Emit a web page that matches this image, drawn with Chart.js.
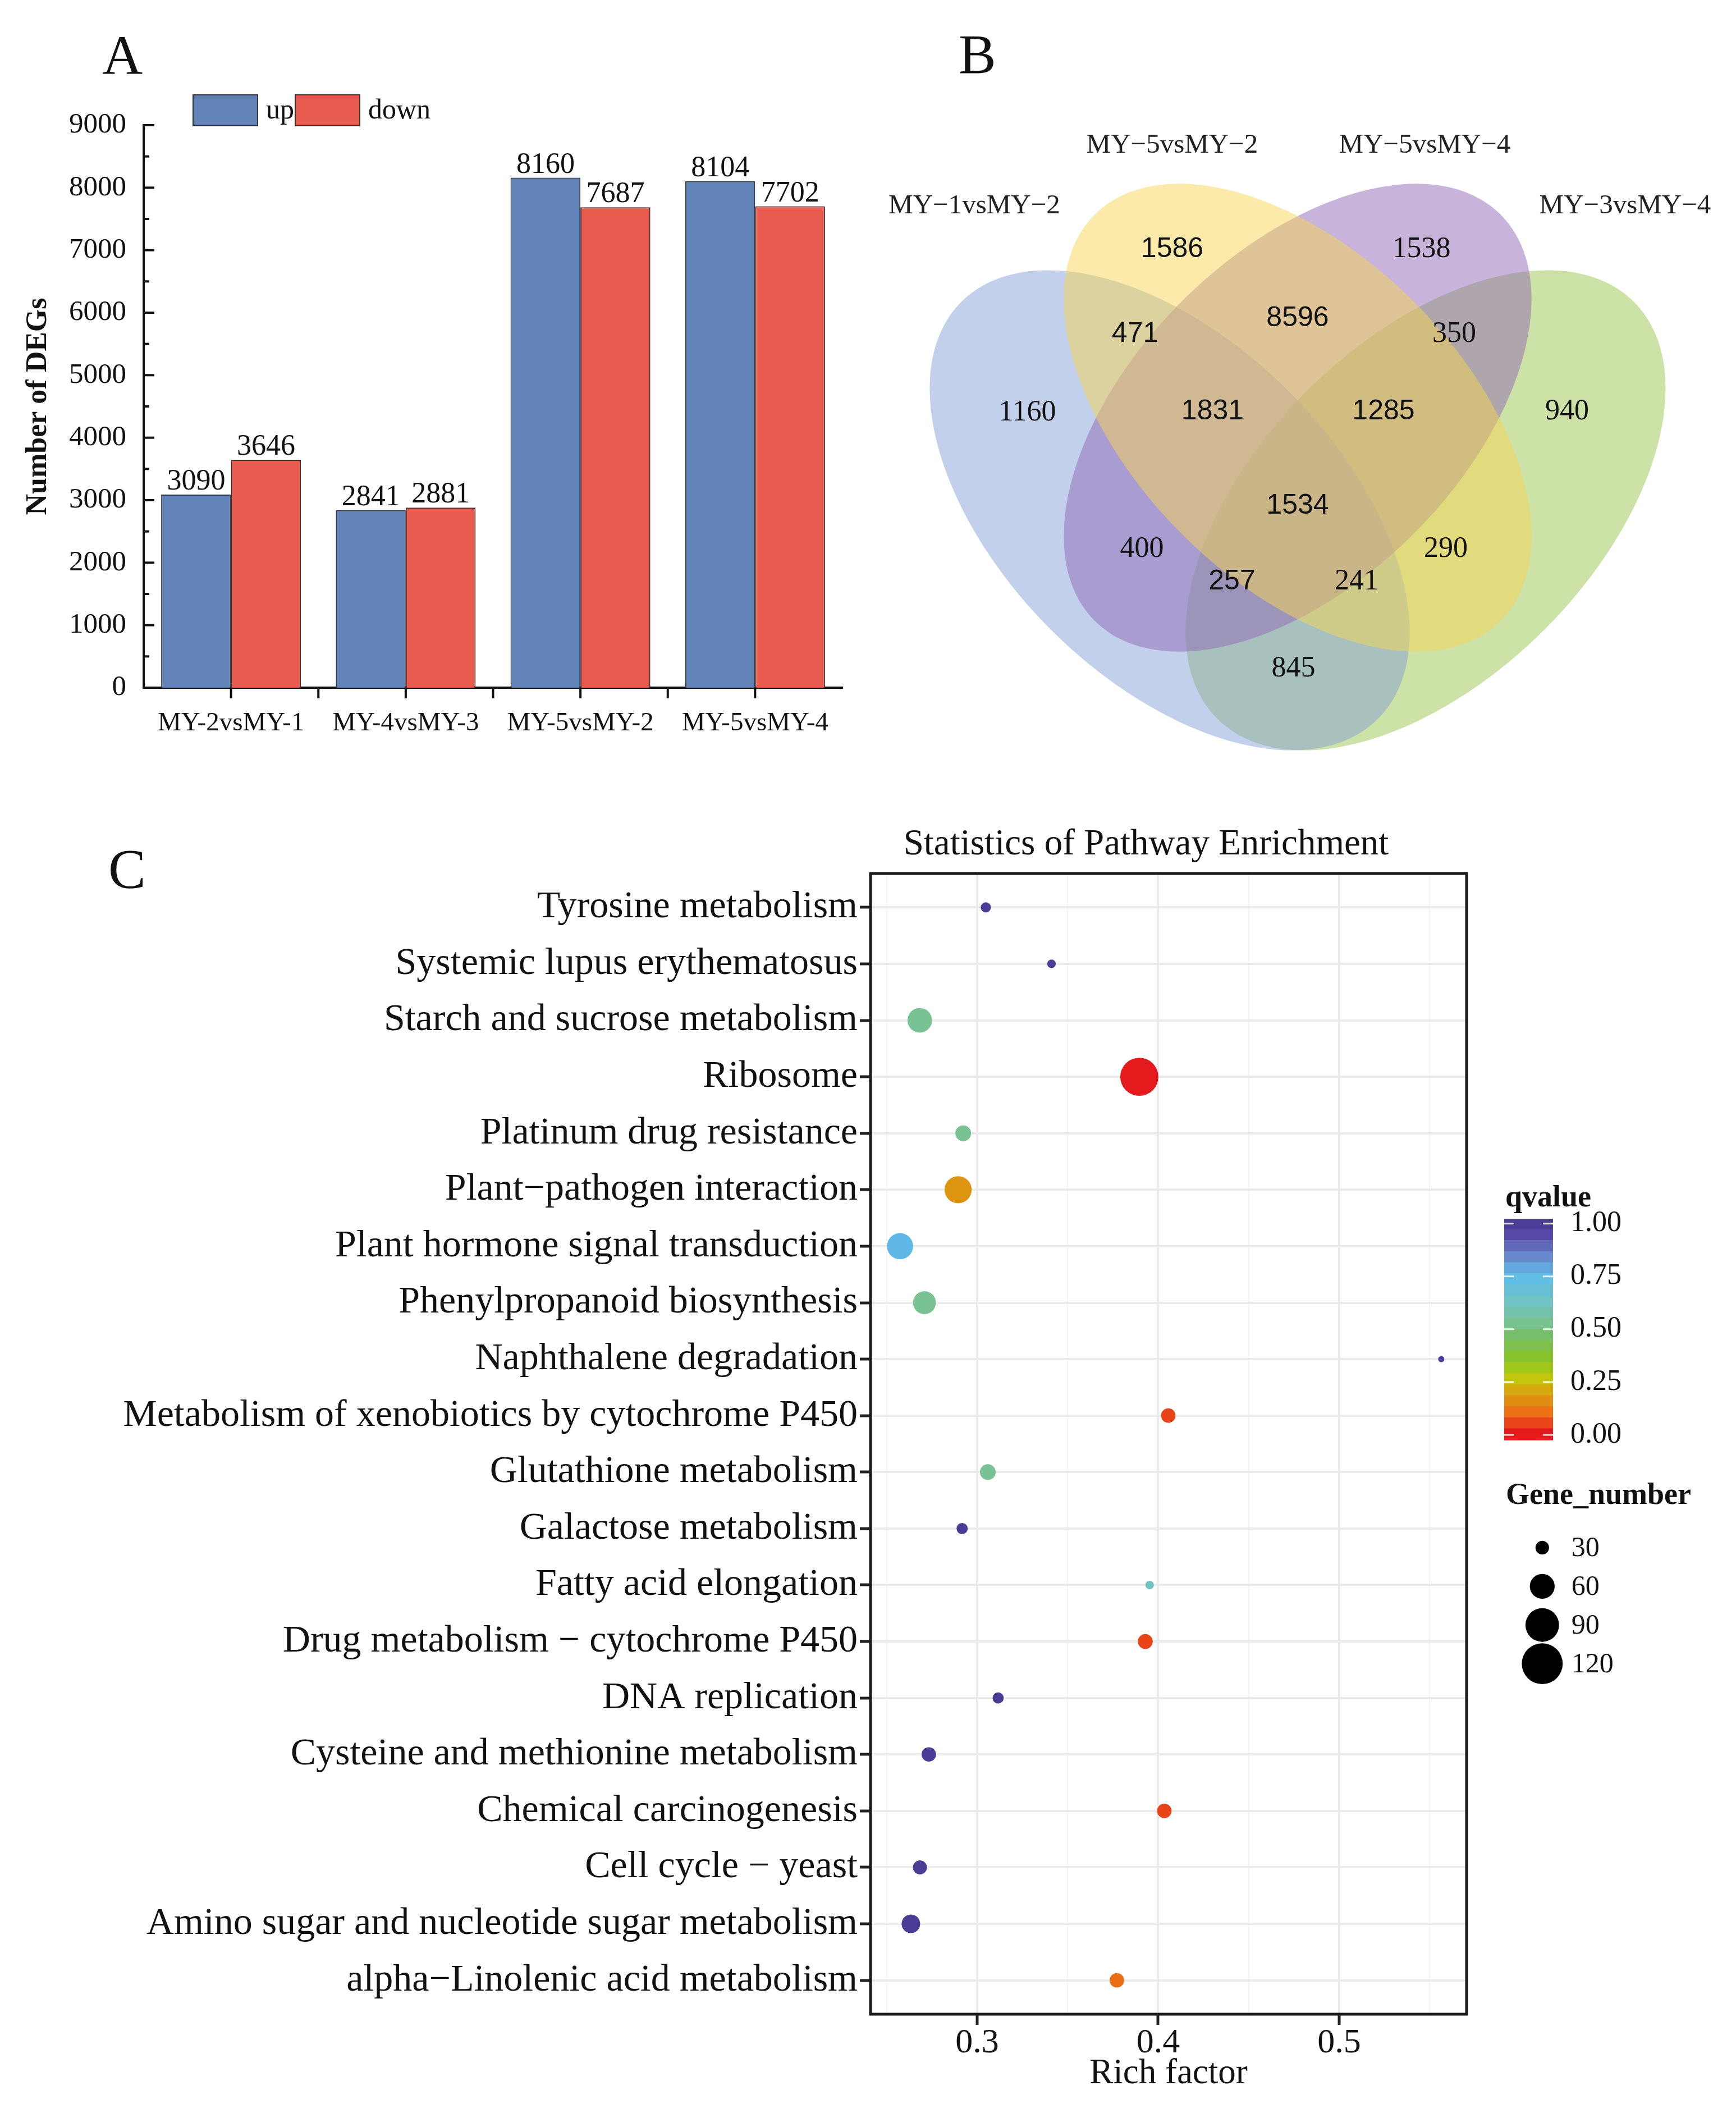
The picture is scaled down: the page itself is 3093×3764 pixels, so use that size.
<!DOCTYPE html>
<html>
<head>
<meta charset="utf-8">
<script src="https://cdn.jsdelivr.net/npm/chart.js@4.4.1/dist/chart.umd.min.js"></script>
<style>
  html, body { margin: 0; padding: 0; background: #fff; }
  body { width: 3093px; height: 3764px; position: relative; overflow: hidden; }
  canvas { position: absolute; }
</style>
</head>
<body>
<canvas id="bar" width="1550" height="1400" style="left:0;top:0;width:1550px;height:1400px"></canvas>
<canvas id="venn" width="1543" height="1400" style="left:1550px;top:0;width:1543px;height:1400px"></canvas>
<canvas id="dot" width="3093" height="2314" style="left:0;top:1450px;width:3093px;height:2314px"></canvas>
<canvas id="qbar" width="453" height="520" style="left:2640px;top:2100px;width:453px;height:520px"></canvas>
<canvas id="sizeKey" width="473" height="500" style="left:2620px;top:2600px;width:473px;height:500px"></canvas>
<script>
const SERIF = "'Liberation Serif', 'Times New Roman', serif";
const SANS = "'Liberation Sans', Arial, sans-serif";

// ---- panel A : DEG counts
const comparisons = ["MY-2vsMY-1", "MY-4vsMY-3", "MY-5vsMY-2", "MY-5vsMY-4"];
const upCounts = [3090, 2841, 8160, 8104];
const downCounts = [3646, 2881, 7687, 7702];
const countTicks = [0, 1000, 2000, 3000, 4000, 5000, 6000, 7000, 8000, 9000];

// ---- panel B : Venn
const vennSets = ["MY\u22121vsMY\u22122", "MY\u22125vsMY\u22122", "MY\u22125vsMY\u22124", "MY\u22123vsMY\u22124"];
const regionCounts = [1160, 1586, 1538, 940, 471, 8596, 350, 1831, 1285, 1534, 400, 290, 257, 241, 845];

// ---- panel C : KEGG enrichment
const pathways = [
  "Tyrosine metabolism",
  "Systemic lupus erythematosus",
  "Starch and sucrose metabolism",
  "Ribosome",
  "Platinum drug resistance",
  "Plant\u2212pathogen interaction",
  "Plant hormone signal transduction",
  "Phenylpropanoid biosynthesis",
  "Naphthalene degradation",
  "Metabolism of xenobiotics by cytochrome P450",
  "Glutathione metabolism",
  "Galactose metabolism",
  "Fatty acid elongation",
  "Drug metabolism \u2212 cytochrome P450",
  "DNA replication",
  "Cysteine and methionine metabolism",
  "Chemical carcinogenesis",
  "Cell cycle \u2212 yeast",
  "Amino sugar and nucleotide sugar metabolism",
  "alpha\u2212Linolenic acid metabolism",
];
const richFactor = [0.3048, 0.3411, 0.2683, 0.3896, 0.2923, 0.2895, 0.2574, 0.2709, 0.5564, 0.4056,
                    0.3059, 0.2917, 0.3953, 0.3929, 0.3116, 0.2733, 0.4034, 0.2684, 0.2634, 0.3772];
const geneNumber = [23, 20, 59, 108, 35, 67, 64, 54, 16, 32, 35, 25, 20, 33, 25, 32, 32, 31, 42, 32];
const qvalue = [1.0, 1.0, 0.53, 0.0, 0.53, 0.17, 0.76, 0.53, 1.0, 0.05,
                0.53, 1.0, 0.62, 0.05, 1.0, 1.0, 0.05, 1.0, 1.0, 0.1];
const richTicks = [0.3, 0.4, 0.5];
const qTicks = [0, 0.25, 0.5, 0.75, 1];
const sizeBreaks = [30, 60, 90, 120];

// ---- layout only (Venn text anchors, unit coords of the 4-ellipse layout)
const regionPos = [[0.179, 0.586], [0.351, 0.780], [0.647, 0.780], [0.820, 0.587], [0.307, 0.679],
                   [0.500, 0.698], [0.686, 0.679], [0.399, 0.587], [0.602, 0.587], [0.500, 0.475],
                   [0.315, 0.424], [0.676, 0.424], [0.422, 0.385], [0.570, 0.385], [0.495, 0.282]];
const regionSans = [false, true, false, false, true, true, false, true, true, true, false, false, true, false, false];
const setLabelPos = [[0.116, 0.831], [0.351, 0.903], [0.651, 0.903], [0.889, 0.831]];
// drawn in this order: green, blue, purple, yellow
const ellipses = [
  { cx: 0.652, cy: 0.47, a: 0.35, b: 0.2, rot: 45, fill: "rgba(153,197,77,0.5)" },
  { cx: 0.348, cy: 0.47, a: 0.35, b: 0.2, rot: 135, fill: "rgba(133,161,215,0.5)" },
  { cx: 0.50, cy: 0.58, a: 0.341, b: 0.195, rot: 45, fill: "rgba(145,105,181,0.5)" },
  { cx: 0.50, cy: 0.58, a: 0.341, b: 0.195, rot: 135, fill: "rgba(247,213,85,0.5)" },
];

const qStops = [[0, "#E41A1C"], [0.1, "#EC6E14"], [0.2, "#D7A50F"], [0.27, "#BFCB0E"], [0.35, "#8AC323"],
                [0.45, "#78BE5F"], [0.55, "#78C3A0"], [0.65, "#6EC3CD"], [0.75, "#5FBEEB"],
                [0.85, "#6982C8"], [0.95, "#5546A5"], [1, "#4B3C96"]];

Chart.defaults.font.family = SERIF;
Chart.defaults.color = "#111";
Chart.defaults.animation = false;
Chart.defaults.plugins.legend.display = false;
Chart.defaults.plugins.tooltip.enabled = false;

function hexRgb(h) {
  return [1, 3, 5].map((i) => parseInt(h.slice(i, i + 2), 16));
}

function qColor(q) {
  q = Math.max(0, Math.min(1, q));
  for (let i = 1; i < qStops.length; i++) {
    if (q <= qStops[i][0]) {
      const [t0, c0] = qStops[i - 1];
      const [t1, c1] = qStops[i];
      const f = (q - t0) / (t1 - t0);
      const a = hexRgb(c0), b = hexRgb(c1);
      const c = a.map((v, k) => Math.round(v + (b[k] - v) * f));
      return `rgb(${c[0]},${c[1]},${c[2]})`;
    }
  }
  return qStops[qStops.length - 1][1];
}

function sizeFn(n) {
  return 4.45 * Math.sqrt(n) - 12.3;
}

function line(ctx, x1, y1, x2, y2) {
  ctx.beginPath();
  ctx.moveTo(x1, y1);
  ctx.lineTo(x2, y2);
  ctx.stroke();
}

// ================= A =================
const barExtras = {
  id: "barExtras",
  afterDraw(chart) {
    const { ctx, chartArea: area } = chart;
    const xs = chart.scales.x, ys = chart.scales.y;
    ctx.save();
    ctx.strokeStyle = "#111";
    ctx.lineWidth = 4;
    countTicks.forEach((v) => {
      const py = ys.getPixelForValue(v);
      line(ctx, area.left, py, area.left + 19, py);
      if (v < 9000) {
        const pm = ys.getPixelForValue(v + 500);
        line(ctx, area.left, pm, area.left + 10, pm);
      }
    });
    comparisons.forEach((_, i) => {
      const px = xs.getPixelForValue(i);
      line(ctx, px, area.bottom, px, area.bottom + 19);
      if (i < comparisons.length - 1) {
        const pb = (px + xs.getPixelForValue(i + 1)) / 2;
        line(ctx, pb, area.bottom, pb, area.bottom + 19);
      }
    });
    // value labels
    ctx.fillStyle = "#111";
    ctx.font = `52px ${SERIF}`;
    ctx.textAlign = "center";
    ctx.textBaseline = "alphabetic";
    chart.data.datasets.forEach((ds, d) => {
      chart.getDatasetMeta(d).data.forEach((el, i) => {
        ctx.fillText(String(ds.data[i]), el.x, el.y - 9);
      });
    });
    // legend
    const boxes = [[344, "up", 474], [526, "down", 656]];
    ctx.textAlign = "left";
    ctx.font = `50px ${SERIF}`;
    boxes.forEach(([bx, label, tx], d) => {
      ctx.fillStyle = chart.data.datasets[d].backgroundColor;
      ctx.fillRect(bx, 169, 115, 55);
      ctx.lineWidth = 2;
      ctx.strokeStyle = "#333";
      ctx.strokeRect(bx, 169, 115, 55);
      ctx.fillStyle = "#111";
      ctx.fillText(label, tx, 211);
    });
    ctx.font = `100px ${SERIF}`;
    ctx.fillText("A", 182, 132);
    ctx.restore();
  },
};

new Chart(document.getElementById("bar"), {
  type: "bar",
  data: {
    labels: comparisons,
    datasets: [
      { label: "up", data: upCounts, backgroundColor: "#6283B7", borderColor: "#2f3a4a", borderWidth: 2 },
      { label: "down", data: downCounts, backgroundColor: "#EA5B4F", borderColor: "#4a2a28", borderWidth: 2 },
    ],
  },
  options: {
    responsive: false,
    devicePixelRatio: 1,
    layout: { padding: { top: 223, right: 49, left: 0, bottom: 0 } },
    datasets: { bar: { categoryPercentage: 0.8, barPercentage: 1 } },
    scales: {
      x: {
        afterFit: (ax) => { ax.height = 175; },
        grid: { display: false },
        border: { display: true, color: "#111", width: 4 },
        ticks: { font: { size: 47, lineHeight: 1 }, color: "#111", padding: 32, maxRotation: 0 },
      },
      y: {
        min: 0,
        max: 9000,
        afterBuildTicks: (ax) => { ax.ticks = countTicks.map((v) => ({ value: v })); },
        afterFit: (ax) => { ax.width = 256; },
        grid: { display: false },
        border: { display: true, color: "#111", width: 4 },
        ticks: { font: { size: 51 }, color: "#111", padding: 23, callback: (v) => String(v) },
        title: {
          display: true,
          text: "Number of DEGs",
          font: { size: 52, weight: "bold" },
          color: "#111",
          padding: { top: 37, bottom: 0 },
        },
      },
    },
  },
  plugins: [barExtras],
});

// ================= B =================
function ellipsePath(ctx, xs, ys, e) {
  const r = (e.rot * Math.PI) / 180;
  ctx.beginPath();
  for (let k = 0; k <= 240; k++) {
    const t = (k / 240) * 2 * Math.PI;
    const ux = e.cx + e.a * Math.cos(t) * Math.cos(r) - e.b * Math.sin(t) * Math.sin(r);
    const uy = e.cy + e.a * Math.cos(t) * Math.sin(r) + e.b * Math.sin(t) * Math.cos(r);
    const px = xs.getPixelForValue(ux), py = ys.getPixelForValue(uy);
    if (k === 0) ctx.moveTo(px, py);
    else ctx.lineTo(px, py);
  }
  ctx.closePath();
}

const vennDraw = {
  id: "vennDraw",
  beforeDatasetsDraw(chart) {
    const { ctx } = chart;
    const xs = chart.scales.x, ys = chart.scales.y;
    ctx.save();
    ellipses.forEach((e) => {
      ellipsePath(ctx, xs, ys, e);
      ctx.fillStyle = e.fill;
      ctx.fill();
    });
    ctx.restore();
  },
  afterDatasetsDraw(chart) {
    const { ctx } = chart;
    const xs = chart.scales.x, ys = chart.scales.y;
    ctx.save();
    ctx.fillStyle = "#111";
    ctx.textAlign = "center";
    ctx.textBaseline = "middle";
    chart.getDatasetMeta(0).data.forEach((el, i) => {
      ctx.font = regionSans[i] ? `50px ${SANS}` : `52px ${SERIF}`;
      ctx.fillText(String(regionCounts[i]), el.x, el.y);
    });
    ctx.font = `49px ${SERIF}`;
    ctx.fillStyle = "#222";
    vennSets.forEach((s, i) => {
      ctx.fillText(s, xs.getPixelForValue(setLabelPos[i][0]), ys.getPixelForValue(setLabelPos[i][1]));
    });
    ctx.textAlign = "left";
    ctx.textBaseline = "alphabetic";
    ctx.fillStyle = "#111";
    ctx.font = `100px ${SERIF}`;
    ctx.fillText("B", 158, 130);
    ctx.restore();
  },
};

new Chart(document.getElementById("venn"), {
  type: "scatter",
  data: {
    datasets: [{
      data: regionCounts.map((c, i) => ({ x: regionPos[i][0], y: regionPos[i][1] })),
      pointRadius: 0,
    }],
  },
  options: {
    responsive: false,
    devicePixelRatio: 1,
    layout: { padding: 0 },
    scales: {
      x: { type: "linear", display: false, min: -0.008, max: 1.0207 },
      y: { type: "linear", display: false, min: 0.1427, max: 1.076 },
    },
  },
  plugins: [vennDraw],
});

// ================= C =================
const isMajorRich = (v) => richTicks.some((t) => Math.abs(t - v) < 1e-6);

const dotExtras = {
  id: "dotExtras",
  afterDraw(chart) {
    const { ctx, chartArea: a } = chart;
    ctx.save();
    ctx.strokeStyle = "#1a1a1a";
    ctx.lineWidth = 5;
    ctx.strokeRect(a.left, a.top, a.right - a.left, a.bottom - a.top);
    ctx.fillStyle = "#111";
    ctx.textAlign = "center";
    ctx.textBaseline = "alphabetic";
    ctx.font = `65px ${SERIF}`;
    ctx.fillText("Statistics of Pathway Enrichment", 2042, 72);
    ctx.textAlign = "left";
    ctx.font = `100px ${SERIF}`;
    ctx.fillText("C", 193, 131);
    ctx.restore();
  },
};

new Chart(document.getElementById("dot"), {
  type: "scatter",
  data: {
    datasets: [{
      data: richFactor.map((x, i) => ({ x, y: i })),
      pointRadius: (c) => sizeFn(geneNumber[c.dataIndex]),
      pointBackgroundColor: (c) => qColor(qvalue[c.dataIndex]),
      pointBorderWidth: 0,
    }],
  },
  options: {
    responsive: false,
    devicePixelRatio: 1,
    layout: { padding: { top: 106, right: 480, left: 0, bottom: 0 } },
    scales: {
      x: {
        type: "linear",
        min: 0.2411,
        max: 0.5704,
        afterBuildTicks: (ax) => { ax.ticks = [0.25, 0.3, 0.35, 0.4, 0.45, 0.5, 0.55].map((v) => ({ value: v })); },
        afterFit: (ax) => { ax.height = 176; },
        ticks: {
          autoSkip: false,
          maxRotation: 0,
          padding: 2,
          font: { size: 62, lineHeight: 1 },
          color: "#111",
          callback: (v) => (isMajorRich(v) ? v.toFixed(1) : ""),
        },
        grid: {
          color: (c) => (c.tick && isMajorRich(c.tick.value) ? "#EBEBEB" : "#F5F5F5"),
          lineWidth: (c) => (c.tick && isMajorRich(c.tick.value) ? 4 : 2),
          tickColor: (c) => (c.tick && isMajorRich(c.tick.value) ? "#222" : "rgba(0,0,0,0)"),
          tickLength: 19,
          tickWidth: 5,
        },
        border: { display: false },
        title: {
          display: true,
          text: "Rich factor",
          font: { size: 63, lineHeight: 1.2 },
          color: "#111",
          padding: { top: 0, bottom: 32 },
        },
      },
      y: {
        type: "linear",
        reverse: true,
        min: -0.6,
        max: 19.6,
        afterBuildTicks: (ax) => { ax.ticks = pathways.map((_, i) => ({ value: i })); },
        afterFit: (ax) => { ax.width = 1551; },
        ticks: {
          autoSkip: false,
          padding: 4,
          font: { size: 68 },
          color: "#111",
          callback: (v) => pathways[v],
        },
        grid: { color: "#EBEBEB", lineWidth: 4, tickColor: "#222", tickLength: 19, tickWidth: 5 },
        border: { display: false },
      },
    },
  },
  plugins: [dotExtras],
});

// colour bar legend
const qLow = -0.026, qHigh = 1.023, qBins = 20;
const binEdges = Array.from({ length: qBins + 1 }, (_, k) => qLow + ((qHigh - qLow) * k) / qBins);

const qbarExtras = {
  id: "qbarExtras",
  afterDraw(chart) {
    const { ctx, chartArea: a } = chart;
    const ys = chart.scales.y;
    ctx.save();
    ctx.strokeStyle = "rgba(255,255,255,0.85)";
    ctx.lineWidth = 3;
    qTicks.forEach((v) => {
      const py = ys.getPixelForValue(v);
      line(ctx, a.left, py, a.left + 18, py);
      line(ctx, a.right - 18, py, a.right, py);
    });
    ctx.fillStyle = "#111";
    ctx.font = `bold 54px ${SERIF}`;
    ctx.textAlign = "left";
    ctx.textBaseline = "alphabetic";
    ctx.fillText("qvalue", 42, 49);
    ctx.restore();
  },
};

new Chart(document.getElementById("qbar"), {
  type: "bar",
  data: {
    labels: ["q"],
    datasets: binEdges.slice(0, -1).map((lo, k) => ({
      data: [[lo, k === qBins - 1 ? binEdges[k + 1] : binEdges[k + 1] + 0.003]],
      backgroundColor: qColor((lo + binEdges[k + 1]) / 2),
      borderWidth: 0,
    })),
  },
  options: {
    responsive: false,
    devicePixelRatio: 1,
    layout: { padding: { left: 40, top: 71, bottom: 45, right: 0 } },
    datasets: { bar: { grouped: false, barPercentage: 1, categoryPercentage: 1 } },
    scales: {
      x: { display: false },
      y: {
        position: "right",
        min: qLow,
        max: qHigh,
        afterBuildTicks: (ax) => { ax.ticks = qTicks.map((v) => ({ value: v })); },
        afterFit: (ax) => { ax.width = 326; },
        grid: { display: false },
        border: { display: false },
        ticks: { padding: 23, font: { size: 52 }, color: "#111", callback: (v) => v.toFixed(2) },
      },
    },
  },
  plugins: [qbarExtras],
});

// gene number size legend
const sizeKeyExtras = {
  id: "sizeKeyExtras",
  afterDraw(chart) {
    const { ctx } = chart;
    ctx.save();
    ctx.fillStyle = "#111";
    ctx.font = `bold 54px ${SERIF}`;
    ctx.textAlign = "left";
    ctx.textBaseline = "alphabetic";
    ctx.fillText("Gene_number", 63, 79);
    ctx.font = `50px ${SERIF}`;
    ctx.textBaseline = "middle";
    chart.getDatasetMeta(0).data.forEach((el, i) => {
      ctx.fillText(String(sizeBreaks[i]), el.x + 52, el.y + 2);
    });
    ctx.restore();
  },
};

new Chart(document.getElementById("sizeKey"), {
  type: "scatter",
  data: {
    datasets: [{
      data: sizeBreaks.map((n, i) => ({ x: 0, y: i })),
      pointRadius: (c) => sizeFn(sizeBreaks[c.dataIndex]),
      pointBackgroundColor: "#000",
      pointBorderWidth: 0,
    }],
  },
  options: {
    responsive: false,
    devicePixelRatio: 1,
    layout: { padding: 0 },
    scales: {
      x: { type: "linear", display: false, min: -1, max: 3.38 },
      y: { type: "linear", display: false, reverse: true, min: -1.748, max: 4.45 },
    },
  },
  plugins: [sizeKeyExtras],
});
</script>
</body>
</html>
